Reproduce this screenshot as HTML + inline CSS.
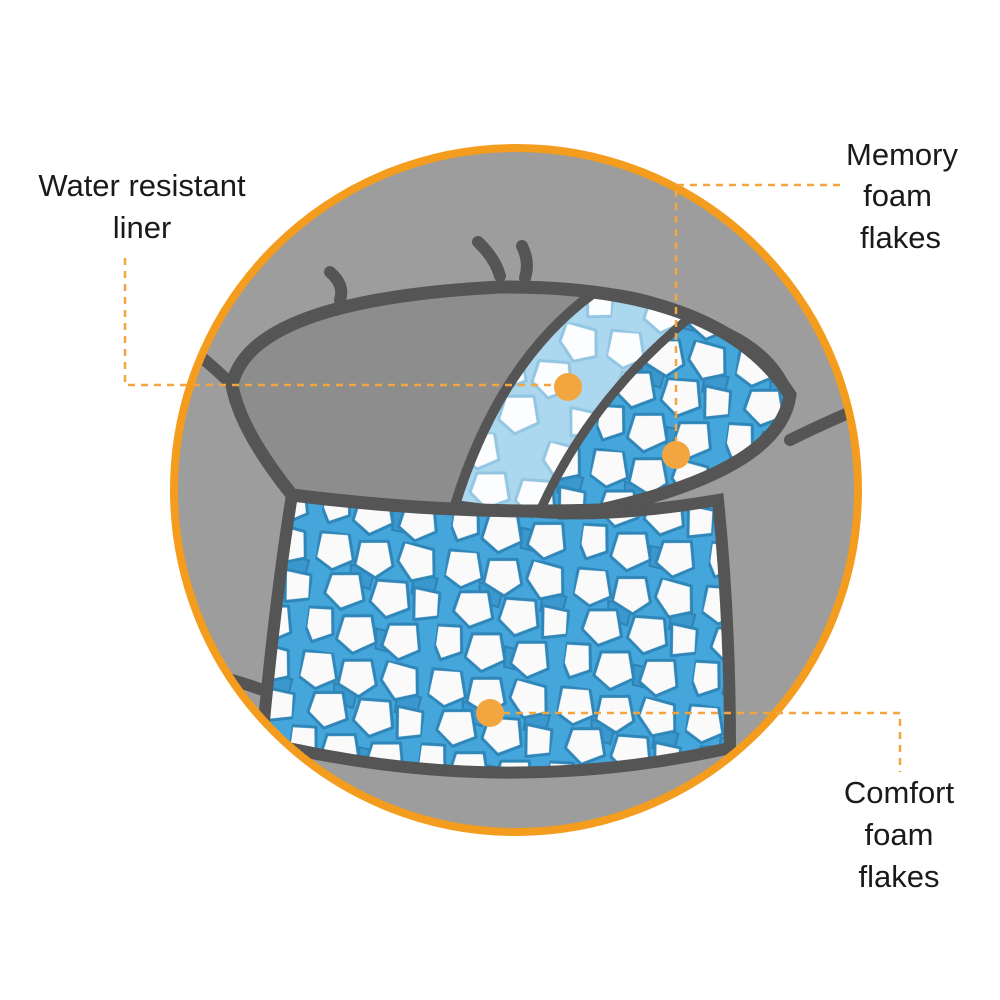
<!DOCTYPE html>
<html><head><style>
html,body{margin:0;padding:0;background:#fff;}
svg{display:block}
text{font-family:"Liberation Sans",sans-serif;fill:#1a1a1a;font-size:31px}
</style></head><body>
<svg width="1000" height="1000" viewBox="0 0 1000 1000" xmlns="http://www.w3.org/2000/svg">
<defs>
<pattern id="foam" width="130" height="120" patternUnits="userSpaceOnUse" patternTransform="rotate(8)">
<rect width="130" height="120" fill="#45a6dc"/>
<g fill="#3a98cf" stroke="#2e82b4" stroke-width="2">
<polygon points="36,30 60,34 58,52 38,48"/>
<polygon points="100,30 124,32 122,50 100,50"/>
<polygon points="70,90 96,92 92,112 72,110"/>
</g>
<g fill="#fafafa" stroke="#2f86b8" stroke-width="3" stroke-linejoin="round">
<polygon points="2,2 30,0 38,26 18,38 0,28"/>
<polygon points="42,6 70,2 78,26 62,40 40,30"/>
<polygon points="86,0 116,4 120,30 98,38 82,20"/>
<polygon points="18,42 46,38 54,64 32,76 14,62"/>
<polygon points="64,42 94,40 100,66 78,78 60,64"/>
<polygon points="102,44 128,46 130,70 106,76"/>
<polygon points="0,78 24,76 28,102 8,112 0,98"/>
<polygon points="36,82 64,78 72,104 50,118 32,106"/>
<polygon points="82,84 110,80 116,106 96,118 78,106"/>
</g>
</pattern>
<pattern id="foamL" width="130" height="120" patternUnits="userSpaceOnUse" patternTransform="rotate(8)">
<rect width="130" height="120" fill="#abd7ef"/>
<g fill="#fbfdff" stroke="#93c6e3" stroke-width="3" stroke-linejoin="round">
<polygon points="2,2 30,0 38,26 18,38 0,28"/>
<polygon points="86,0 116,4 120,30 98,38 82,20"/>
<polygon points="18,42 46,38 54,64 32,76 14,62"/>
<polygon points="64,42 94,40 100,66 78,78 60,64"/>
<polygon points="36,82 64,78 72,104 50,118 32,106"/>
<polygon points="102,84 128,86 130,108 106,112"/>
</g>
</pattern>
<clipPath id="circ"><circle cx="516" cy="490" r="342"/></clipPath>
</defs>
<circle cx="516" cy="490" r="342" fill="#9d9d9d"/>
<g clip-path="url(#circ)" stroke="#555" stroke-width="12" stroke-linecap="round" fill="none">
<path d="M195,352 Q215,368 232,385"/>
<path d="M790,440 Q820,425 860,408"/>
<path d="M225,678 Q250,685 268,692"/>
<path d="M330,272 Q345,285 340,300"/>
<path d="M478,242 Q495,258 500,276"/>
<path d="M522,246 Q530,262 525,278"/>
<path d="M292,495 Q275,600 262,742 Q500,800 730,748 Q730,620 718,500 Q600,520 520,510 Q400,500 292,495 Z" fill="url(#foam)"/>
<path d="M232,385 Q250,300 500,287 Q720,285 790,395 Q780,470 600,510 Q450,515 292,495 Q240,430 232,385 Z" fill="#8d8d8d"/>
<path d="M455,505 Q500,360 595,292 Q650,295 690,318 Q590,400 540,512 Q500,512 455,505 Z" fill="url(#foamL)" stroke-width="10"/>
<path d="M540,512 Q590,400 690,318 Q770,340 790,395 Q780,470 600,510 Z" fill="url(#foam)" stroke-width="8"/>
<path d="M232,385 Q250,300 500,287 Q720,285 790,395 Q780,470 600,510 Q450,515 292,495 Q240,430 232,385 Z" stroke-width="13"/>
<path d="M292,495 Q275,600 262,742 Q500,800 730,748 Q730,620 718,500" stroke-width="11"/>
</g>
<circle cx="516" cy="490" r="342" fill="none" stroke="#f39c1e" stroke-width="8"/>
<g stroke="#f3a640" stroke-width="2.5" stroke-dasharray="7,6" fill="none">
<path d="M125,258 V385 H568"/>
<path d="M840,185 H676 V455"/>
<path d="M490,713 H900 V772"/>
</g>
<g fill="#f3a640">
<circle cx="568" cy="387" r="14"/>
<circle cx="676" cy="455" r="14"/>
<circle cx="490" cy="713" r="14"/>
</g>
<text x="142" y="196" text-anchor="middle">Water resistant</text>
<text x="142" y="238" text-anchor="middle">liner</text>
<text x="958" y="165" text-anchor="end">Memory</text>
<text x="932" y="206" text-anchor="end">foam</text>
<text x="941" y="248" text-anchor="end">flakes</text>
<text x="899" y="803" text-anchor="middle">Comfort</text>
<text x="899" y="845" text-anchor="middle">foam</text>
<text x="899" y="887" text-anchor="middle">flakes</text>
</svg>
</body></html>
